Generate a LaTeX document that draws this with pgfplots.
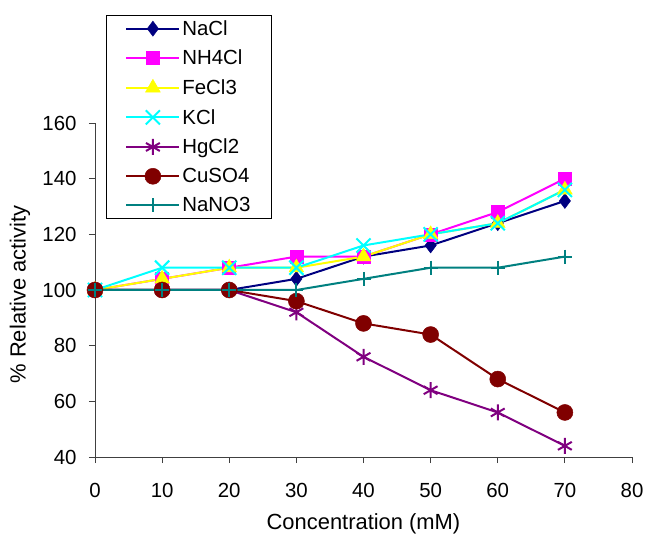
\documentclass[border=0pt]{standalone}
\usepackage{pgfplots}
\pgfplotsset{compat=1.18}
\usepackage{fontspec}
\setmainfont{Liberation Sans}
\definecolor{cNaCl}{RGB}{0,0,128}
\definecolor{cNH}{RGB}{255,0,255}
\definecolor{cFe}{RGB}{255,255,0}
\definecolor{cK}{RGB}{0,255,255}
\definecolor{cHg}{RGB}{128,0,128}
\definecolor{cCu}{RGB}{128,0,0}
\definecolor{cNaN}{RGB}{0,128,128}
\begin{document}
\begin{tikzpicture}
\path[use as bounding box] (-95bp,-79bp) rectangle (551bp,457bp);
\begin{axis}[
  scale only axis, width=537bp, height=334bp,
  anchor=south west, at={(0,0)},
  xmin=0, xmax=80, ymin=40, ymax=160,
  xtick={0,10,...,80}, ytick={40,60,...,160},
  axis x line=bottom, axis y line=left,
  axis line style={-, line width=0.8bp, black!75},
  tick style={line width=0.8bp, black!75},
  tick align=outside, major tick length=6bp,
  /pgf/number format/assume math mode=true,
  ticklabel style={font=\fontsize{20.5}{24}\selectfont},
  xticklabel style={yshift=-17bp},
  yticklabel style={xshift=-9bp},
  xlabel={Concentration (mM)},
  ylabel={\% Relative activity},
  label style={font=\fontsize{22}{26}\selectfont},
  xlabel style={at={(axis description cs:0.5,-0.2)}, anchor=center},
  ylabel style={at={(axis description cs:-0.1397,0.4865)}, anchor=center, rotate=0},
  clip=false,
  every axis plot/.append style={line width=2bp},
  legend cell align=left,
  legend style={at={(axis description cs:0.0205,1.323)}, anchor=north west,
    draw=black, line width=0.8bp, font=\fontsize{20.5}{24}\selectfont,
    row sep=9.3bp, inner xsep=19bp, inner ysep=3bp},
  legend image code/.code={%
    \draw[mark repeat=2,mark phase=2] plot coordinates {(0bp,0bp)(26.5bp,0bp)(53bp,0bp)};},
]
\addplot[color=cNaCl, mark=diamond*, mark size=7.5bp, mark options={solid, line width=0.5bp}]
 coordinates {(0,100)(10,100)(20,100)(30,104)(40,112)(50,116)(60,124)(70,132)};
\addlegendentry{NaCl}
\addplot[color=cNH, mark=square*, mark size=6.5bp, mark options={solid, line width=0.5bp}]
 coordinates {(0,100)(10,104)(20,108)(30,112)(40,112)(50,120)(60,128)(70,140)};
\addlegendentry{NH4Cl}
\addplot[color=cFe, mark=triangle*, mark size=8.5bp, mark options={solid, line width=0.5bp}]
 coordinates {(0,100)(10,104)(20,108)(30,108)(40,112)(50,120)(60,124)(70,136)};
\addlegendentry{FeCl3}
\addplot[color=cK, mark=x, mark size=10bp, mark options={solid, line width=2bp}]
 coordinates {(0,100)(10,108)(20,108)(30,108)(40,116)(50,120)(60,124)(70,136)};
\addlegendentry{KCl}
\addplot[color=cHg, mark=asterisk, mark size=8bp, mark options={solid, line width=2bp}]
 coordinates {(0,100)(10,100)(20,100)(30,92)(40,76)(50,64)(60,56)(70,44)};
\addlegendentry{HgCl2}
\addplot[color=cCu, mark=*, mark size=8bp, mark options={solid, line width=0.5bp}]
 coordinates {(0,100)(10,100)(20,100)(30,96)(40,88)(50,84)(60,68)(70,56)};
\addlegendentry{CuSO4}
\addplot[color=cNaN, mark=+, mark size=7bp, mark options={solid, line width=2bp}]
 coordinates {(0,100)(10,100)(20,100)(30,100)(40,104)(50,108)(60,108)(70,112)};
\addlegendentry{NaNO3}
\end{axis}
\end{tikzpicture}
\end{document}
